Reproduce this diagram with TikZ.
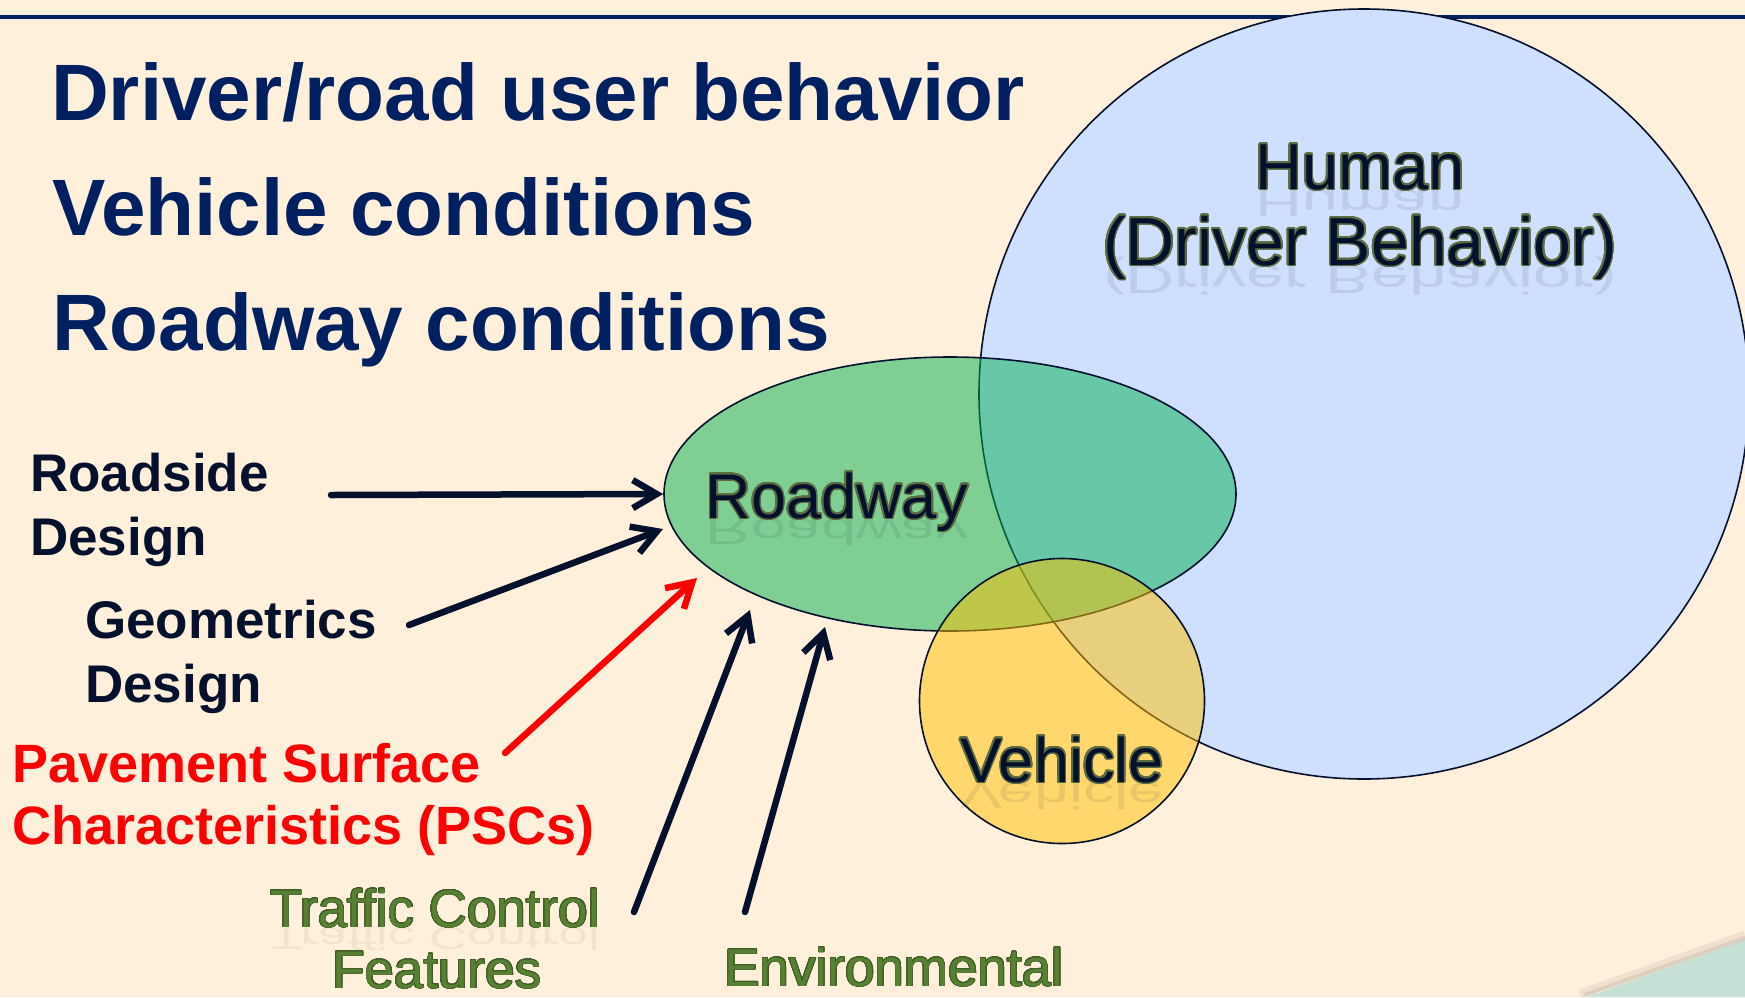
\documentclass[tikz,border=0pt]{standalone}
\usepackage{fontspec}
\setmainfont{Liberation Sans}
\usepackage{graphicx}
\usepackage{contour}
\usetikzlibrary{arrows.meta,positioning,shapes.geometric}

\definecolor{bgcream}{RGB}{255,240,220}
\definecolor{titleblue}{RGB}{0,32,96}
\definecolor{inkblue}{RGB}{5,16,45}
\definecolor{humanblue}{RGB}{207,223,254}
\definecolor{roadgreen}{RGB}{0,176,80}
\definecolor{vehorange}{RGB}{255,192,0}
\definecolor{leafgreen}{RGB}{88,128,52}
\definecolor{leafdark}{RGB}{62,92,36}
\definecolor{glowgrey}{RGB}{92,108,64}
\definecolor{seafoam}{RGB}{197,224,213}

\contournumber{24}

% text with a soft rim and a faint mirror image under its baseline
\newcommand{\shinylabel}[6]{%
  \node[#3, text opacity=0.09] at #2 {\scalebox{1}[-0.6]{#6}};
  \contourlength{#5}%
  \node[#3] (#1) at #2 {\contour{#4}{#6}};
}
% same rim, no mirror image
\newcommand{\rimlabel}[6]{%
  \contourlength{#5}%
  \node[#3] (#1) at #2 {\contour{#4}{#6}};
}

\begin{document}
\begin{tikzpicture}[
    x=1pt, y=-1pt,
    inner sep=0pt,
    blob/.style={circle,draw=inkblue,line width=1.6pt,inner sep=0pt},
    title/.style={anchor=base west,text=titleblue,
        font=\bfseries\fontsize{80}{90}\selectfont},
    factor/.style={anchor=base west,text=inkblue,align=left,
        font=\bfseries\fontsize{53}{64}\selectfont},
    bigname/.style={anchor=base,text=inkblue,
        font=\fontsize{63}{76}\selectfont},
    greenname/.style={anchor=base,text=leafgreen,
        font=\fontsize{53}{63}\selectfont},
    arr/.style={-{Straight Barb[length=24pt,width=28pt]},
        line width=6.5pt,line cap=round,draw=inkblue},
    ]
    \useasboundingbox (0,0) rectangle (1745,997);
    \fill[bgcream] (0,0) rectangle (1745,997);

    % corner strip, bottom right
    \fill[seafoam] (1587,997) -- (1745,940) -- (1745,997) -- cycle;
    \draw[black,opacity=0.06,line width=9pt] (1580,994) -- (1745,935);
    \draw[black,opacity=0.08,line width=4pt] (1584,995) -- (1745,938);

    % rule under the slide title area
    \draw[titleblue,line width=4pt] (0,16.5) -- (1745,16.5);

    % the three factors
    \node[blob,fill=humanblue,minimum size=770pt] (human) at (1364,394) {};
    \node[blob,ellipse,fill=roadgreen,fill opacity=0.5,
        minimum width=572pt,minimum height=274pt] (road) at (950,494) {};
    \node[blob,fill=vehorange,fill opacity=0.5,minimum size=285pt]
        (vehicle) at (1062,701) {};

    \node[title] (drv) at (51,120) {Driver/road user behavior};
    \node[title] (veh) at (52,235) {Vehicle conditions};
    \node[title] (rdw) at (52,350) {Roadway conditions};

    \shinylabel{humanA}{(1360,189)}{bigname,font=\fontsize{65}{76}\selectfont}{glowgrey}{1.5pt}{Human}
    \shinylabel{humanB}{(1360,265)}{bigname,font=\fontsize{68}{76}\selectfont}{glowgrey}{1.5pt}{(Driver Behavior)}
    \shinylabel{roadlbl}{(837,518)}{bigname}{glowgrey}{1.5pt}{Roadway}
    \shinylabel{vehlbl}{(1062,782)}{bigname}{glowgrey}{1.5pt}{Vehicle}

    % roadway elements (anchored on the baseline of the last line)
    \node[factor] (roadside) at (30,555) {Roadside\\Design};
    \node[factor] (geometric) at (85,702) {Geometrics\\Design};
    \node[factor,text=red,font=\bfseries\fontsize{54}{62}\selectfont]
        (psc) at (12,844) {Pavement Surface\\Characteristics (PSCs)};
    \shinylabel{traffic}{(435,927)}{greenname}{leafdark}{0.7pt}{Traffic Control}
    \rimlabel{features}{(437,988)}{greenname}{leafdark}{0.7pt}{Features}
    \rimlabel{environ}{(894,986)}{greenname}{leafdark}{0.7pt}{Environmental}

    \coordinate (rsTail) at (331,495);
    \coordinate (gdTail) at (409,625);
    \coordinate (gdTip) at (663,529);
    \coordinate (pscTail) at (505,753);
    \coordinate (pscTip) at (697,578);
    \coordinate (tcTail) at (634,912);
    \coordinate (tcTip) at (750,610);
    \coordinate (envTail) at (745,912);
    \coordinate (envTip) at (825,627);

    \draw[arr] (rsTail) -- (road.west);
    \draw[arr] (gdTail) -- (gdTip);
    \draw[arr,draw=red] (pscTail) -- (pscTip);
    \draw[arr] (tcTail) -- (tcTip);
    \draw[arr] (envTail) -- (envTip);
\end{tikzpicture}
\end{document}
